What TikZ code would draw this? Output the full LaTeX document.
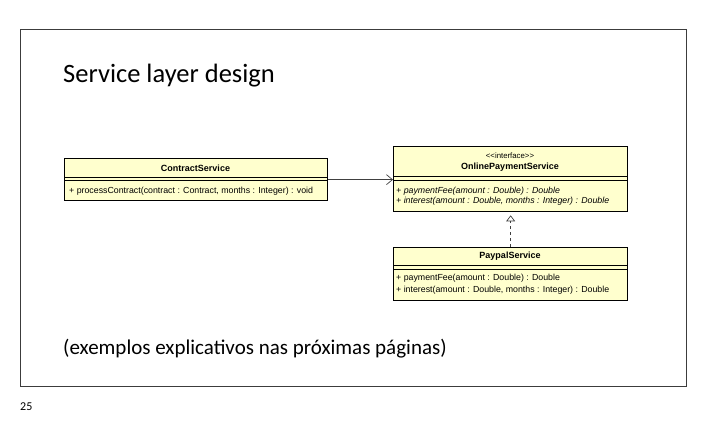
\documentclass[tikz,border=0pt]{standalone}
\usepackage{fontspec}
\setmainfont{Carlito}
\newfontfamily\umlfont{Liberation Sans}
\usetikzlibrary{arrows.meta}
\definecolor{umlfill}{RGB}{255,255,206}
\definecolor{framecol}{RGB}{60,60,60}
\begin{document}
\begin{tikzpicture}[x=1pt,y=-1pt,
  umlbox/.style={draw=black, line width=1.3pt, fill=umlfill, anchor=north west, inner sep=0pt},
  umltxt/.style={font=\umlfont\fontsize{8.8}{10}\selectfont, inner sep=0pt},
  umlbold/.style={font=\umlfont\bfseries\fontsize{9}{10}\selectfont, inner sep=0pt},
  sepline/.style={draw=black, line width=0.7pt},
  slidetxt/.style={anchor=west, inner sep=0pt}]
\useasboundingbox (0,0) rectangle (706,434);
\node[draw=framecol, line width=0.8pt, minimum width=666pt, minimum height=357pt, anchor=north west, inner sep=0pt] (frame) at (20,29) {};
\node[slidetxt, font=\fontsize{26.5}{30}\selectfont] (title) at (63,76) {Service layer design};
\node[slidetxt, font=\fontsize{21}{25}\selectfont] (note) at (63,349) {(exemplos explicativos nas próximas páginas)};
\node[slidetxt, font=\fontsize{12}{14}\selectfont] (page) at (20,407) {25};
% ContractService
\node[umlbox, minimum width=263pt, minimum height=42pt] (cs) at (64,158) {};
\draw[sepline] (64,177) -- (327,177) (64,180) -- (327,180);
\node[umlbold] (csname) at (195.5,168) {ContractService};
\node[umltxt, anchor=west] (csm) at (69,191) {+ processContract(contract : Contract, months : Integer) : void};
% OnlinePaymentService
\node[umlbox, minimum width=234pt, minimum height=65pt] (ops) at (393,146) {};
\draw[sepline] (393,176) -- (627,176) (393,180) -- (627,180);
\node[umltxt, font=\umlfont\fontsize{7.8}{9}\selectfont] (opsst) at (510,156) {<<interface>>};
\node[umlbold] (opsname) at (510,167) {OnlinePaymentService};
\node[umltxt, anchor=west] (opsm1) at (396,191) {\itshape + paymentFee(amount : Double) : Double};
\node[umltxt, anchor=west] (opsm2) at (396,201) {\itshape + interest(amount : Double, months : Integer) : Double};
% PaypalService
\node[umlbox, minimum width=234pt, minimum height=53pt] (pp) at (393,247) {};
\draw[sepline] (393,265) -- (627,265) (393,269) -- (627,269);
\node[umlbold] (ppname) at (510,256) {PaypalService};
\node[umltxt, anchor=west] (ppm1) at (396,278) {+ paymentFee(amount : Double) : Double};
\node[umltxt, anchor=west] (ppm2) at (396,290) {+ interest(amount : Double, months : Integer) : Double};
% connectors
\draw[black!75, line width=0.7pt, -{Straight Barb[length=6pt,width=10pt]}] (cs.east) -- (ops.west |- cs.east);
\draw[black!75, line width=0.7pt, dashed, shorten >=3pt, -{Triangle[open,length=6pt,width=9pt]}] (pp.north) -- (ops.south);
\end{tikzpicture}
\end{document}
